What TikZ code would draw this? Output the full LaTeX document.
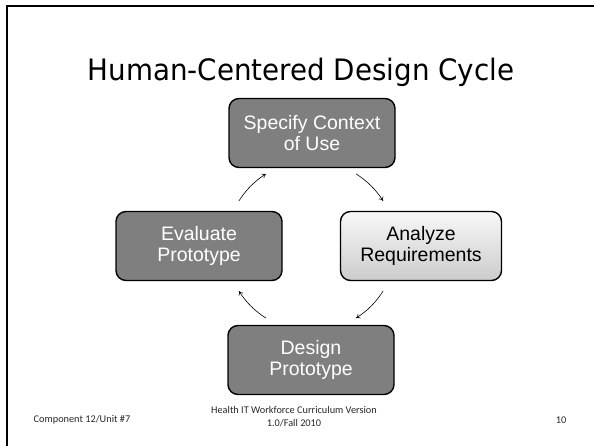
\documentclass[tikz,border=0pt]{standalone}
\usepackage{fontspec}
\setmainfont{Liberation Sans}
\newfontfamily\titlefont[FakeStretch=0.94]{DejaVu Sans}
\newfontfamily\footfont{Carlito}
\usetikzlibrary{arrows.meta}
\definecolor{boxdark}{RGB}{127,127,127}
\definecolor{foot}{RGB}{40,40,40}
\tikzset{
  stepbox/.style={draw=black, line width=1.4pt, rounded corners=10pt,
    minimum width=166pt, minimum height=69pt, inner sep=0pt,
    align=center, font=\fontsize{19.5}{21.5}\selectfont},
  darkbox/.style={stepbox, fill=boxdark, text=white},
  lightbox/.style={stepbox, top color=gray!6, bottom color=gray!40, text=black},
  cyc/.style={-{To[length=4pt,width=5pt]}, line width=0.6pt},
  footer/.style={font=\footfont\fontsize{10.3}{13}\selectfont, text=foot, align=center, inner sep=0pt}
}
\begin{document}
\begin{tikzpicture}[x=1pt,y=1pt]
\useasboundingbox (0,0) rectangle (594,446);
\fill[white] (0,0) rectangle (594,446);
% slide frame
\draw[line width=2.6pt] (7,0) -- (7,440) -- (594,440);
% title
\node[font=\titlefont\fontsize{29.5}{33}\selectfont, inner sep=0pt] (title) at (301,374) {Human-Centered Design Cycle};
% boxes
\node[darkbox] (spec) at (312,313) {Specify Context\\of Use};
\node[lightbox, minimum width=161pt] (anal) at (421,200) {Analyze\\Requirements};
\node[darkbox] (eval) at (199,200) {Evaluate\\Prototype};
\node[darkbox] (des) at (311,86) {Design\\Prototype};
% cycle arrows
\coordinate (c) at (311,200);
\draw[cyc] ([shift={(148:85pt)}]c) arc[start angle=148, end angle=122, radius=85pt];
\draw[cyc] ([shift={(58:85pt)}]c) arc[start angle=58, end angle=32, radius=85pt];
\draw[cyc] ([shift={(-32:85pt)}]c) arc[start angle=-32, end angle=-58, radius=85pt];
\draw[cyc] ([shift={(-122:85pt)}]c) arc[start angle=-122, end angle=-148, radius=85pt];
% footer
\node[footer] (f1) at (82,26) {Component 12/Unit \#7};
\node[footer] (f2) at (294,29) {Health IT Workforce Curriculum Version\\1.0/Fall 2010};
\node[footer] (f3) at (561,26) {10};
\end{tikzpicture}
\end{document}
